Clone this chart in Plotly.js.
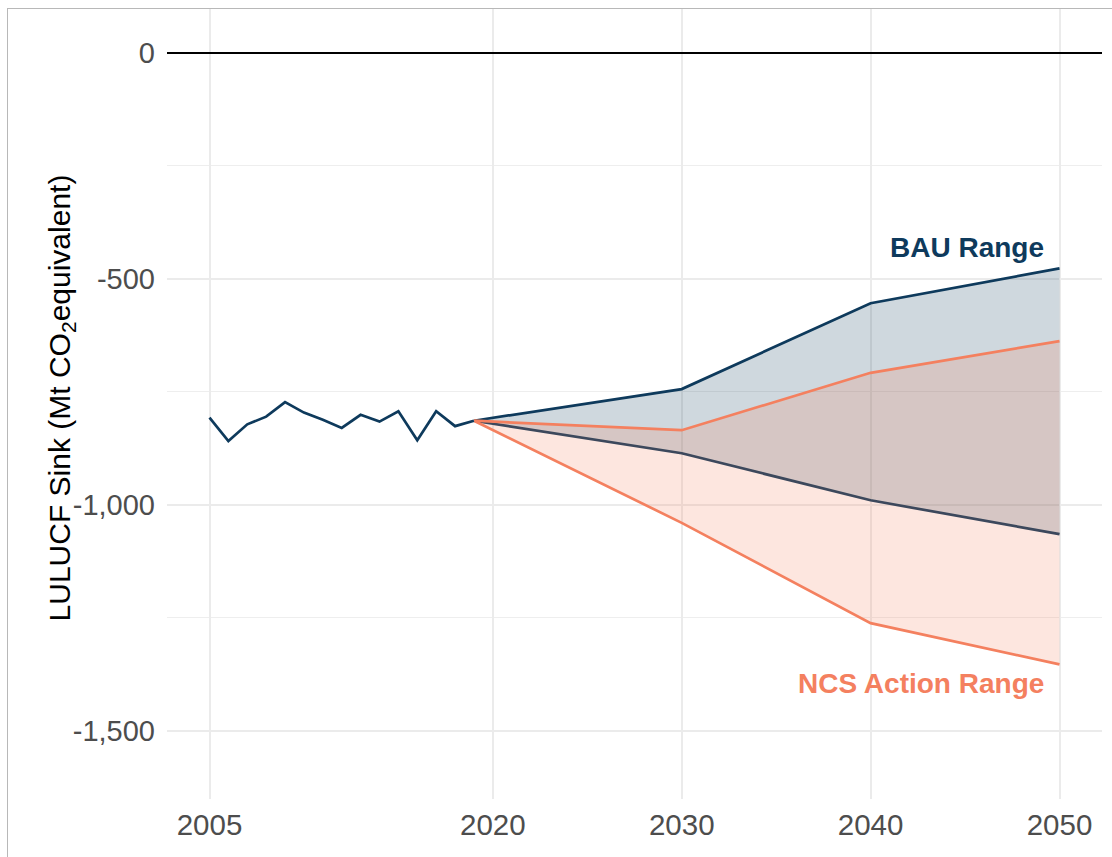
<!DOCTYPE html>
<html>
<head>
<meta charset="utf-8">
<script src="https://cdn.plot.ly/plotly-3.0.1.min.js"></script>
<style>
  body { margin: 0; background: #fff; }
  #chart { width: 1112px; height: 857px; }
  #frame { position: absolute; left: 7px; top: 8px; width: 1110px; height: 860px;
           border-left: 1px solid #b8b8b8; border-top: 1px solid #b8b8b8; pointer-events: none; }
</style>
</head>
<body>
<div id="chart"></div>
<div id="frame"></div>
<script>
// historical sink, 2005-2019
var histYears = [2005, 2006, 2007, 2008, 2009, 2010, 2011, 2012, 2013, 2014, 2015, 2016, 2017, 2018, 2019];
var histSink = [-807, -859, -822, -805, -773, -796, -812, -830, -801, -816, -793, -857, -793, -826, -814];

// projections
var projYears = [2019, 2030, 2040, 2050];
var bauUpper = [-814, -744, -554, -477];
var bauLower = [-814, -886, -990, -1065];
var ncsUpper = [-814, -835, -708, -638];
var ncsLower = [-814, -1040, -1262, -1353];

var xTicks = [2005, 2020, 2030, 2040, 2050];
var yTicks = [0, -500, -1000, -1500];
var yTickText = ["0", "-500", "-1,000", "-1,500"];
var yMinor = [-250, -750, -1250];

var navy = "#0e3a5c";
var salmon = "#f4805f";

var traces = [
  {x: projYears, y: bauLower, mode: "lines", line: {color: navy, width: 2.7}},
  {x: projYears, y: bauUpper, mode: "lines", fill: "tonexty",
   fillcolor: "rgba(14,58,92,0.2)", line: {color: navy, width: 2.7}},
  {x: projYears, y: ncsLower, mode: "lines", line: {color: salmon, width: 2.7}},
  {x: projYears, y: ncsUpper, mode: "lines", fill: "tonexty",
   fillcolor: "rgba(244,128,95,0.2)", line: {color: salmon, width: 2.7}},
  {x: histYears, y: histSink, mode: "lines", line: {color: navy, width: 2.7}}
];

var layout = {
  width: 1112,
  height: 857,
  margin: {l: 167, r: 10, t: 9, b: 58},
  paper_bgcolor: "#fff",
  plot_bgcolor: "#fff",
  showlegend: false,
  hovermode: false,
  font: {family: "Liberation Sans, Arial, sans-serif"},
  xaxis: {
    range: [2002.75, 2052.25],
    tickvals: xTicks,
    ticktext: xTicks.map(String),
    showgrid: true,
    gridcolor: "#ebebeb",
    gridwidth: 2,
    zeroline: false,
    showline: false,
    ticks: "",
    ticklabelstandoff: 5,
    tickfont: {size: 29.5, color: "#4d4d4d"}
  },
  yaxis: {
    range: [-1651, 97],
    tickvals: yTicks,
    ticktext: yTickText,
    showgrid: true,
    gridcolor: "#ebebeb",
    gridwidth: 2,
    minor: {tickvals: yMinor, showgrid: true, gridcolor: "#eeeeee", gridwidth: 1, ticks: ""},
    zeroline: true,
    zerolinecolor: "#000",
    zerolinewidth: 2.5,
    showline: false,
    ticks: "",
    ticklabelstandoff: 11,
    tickfont: {size: 29, color: "#4d4d4d"}
  },
  annotations: [
    {xref: "paper", yref: "paper", x: -0.1345, y: 0.508, showarrow: false,
     textangle: -90, text: "LULUCF Sink (Mt CO<sub>2</sub>equivalent)",
     font: {size: 30, color: "#000"}},
    {xref: "x", yref: "y", x: 2049.3, y: -430, xanchor: "right", showarrow: false,
     text: "<b>BAU Range</b>", font: {size: 28, color: navy}},
    {xref: "x", yref: "y", x: 2049.3, y: -1395, xanchor: "right", showarrow: false,
     text: "<b>NCS Action Range</b>", font: {size: 28, color: salmon}}
  ]
};

Plotly.newPlot("chart", traces, layout, {displayModeBar: false, staticPlot: true});
</script>
</body>
</html>
